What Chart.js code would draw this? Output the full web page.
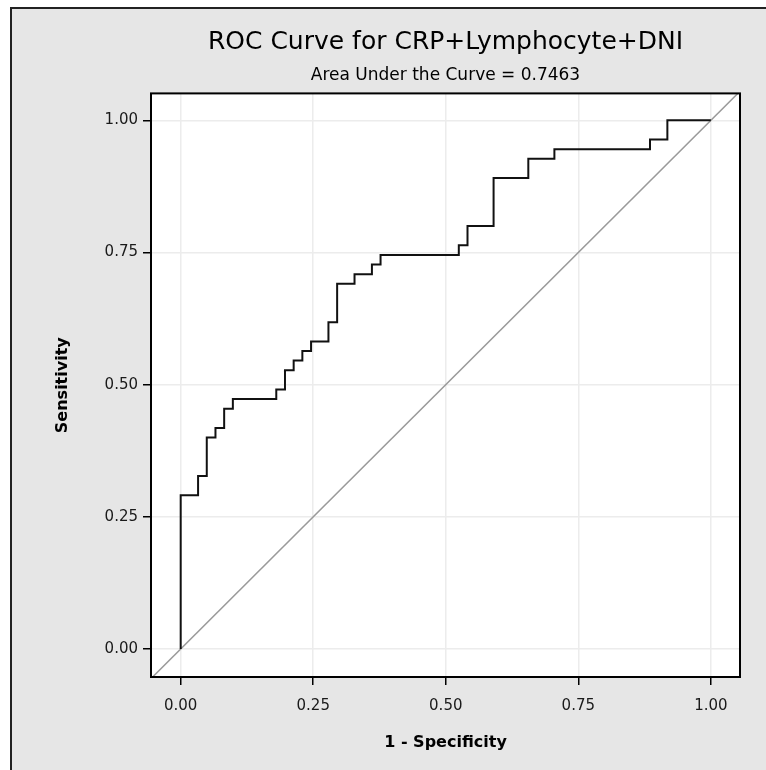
<!DOCTYPE html>
<html>
<head>
<meta charset="utf-8">
<script src="https://cdn.jsdelivr.net/npm/chart.js@4.4.0/dist/chart.umd.min.js"></script>
<style>
  html, body { margin: 0; padding: 0; background: #fff; }
</style>
</head>
<body>
<canvas id="rocChart" width="766" height="770"></canvas>
<script>
// step corners of the ROC curve (1 - specificity, sensitivity)
const rocFpr = [0, 0, 0.0328, 0.0328, 0.0492, 0.0492, 0.0656, 0.0656, 0.0820, 0.0820,
  0.0984, 0.0984, 0.1803, 0.1803, 0.1967, 0.1967, 0.2131, 0.2131, 0.2295, 0.2295,
  0.2459, 0.2459, 0.2787, 0.2787, 0.2951, 0.2951, 0.3279, 0.3279, 0.3607, 0.3607,
  0.3770, 0.3770, 0.5246, 0.5246, 0.5410, 0.5410, 0.5902, 0.5902, 0.6557, 0.6557,
  0.7049, 0.7049, 0.8852, 0.8852, 0.9180, 0.9180, 1];
const rocTpr = [0, 0.2909, 0.2909, 0.3273, 0.3273, 0.4, 0.4, 0.4182, 0.4182, 0.4545,
  0.4545, 0.4727, 0.4727, 0.4909, 0.4909, 0.5273, 0.5273, 0.5455, 0.5455, 0.5636,
  0.5636, 0.5818, 0.5818, 0.6182, 0.6182, 0.6909, 0.6909, 0.7091, 0.7091, 0.7273,
  0.7273, 0.7455, 0.7455, 0.7636, 0.7636, 0.8, 0.8, 0.8909, 0.8909, 0.9273,
  0.9273, 0.9455, 0.9455, 0.9636, 0.9636, 1, 1];
// chance line, corner to corner
const diagX = [-0.06, 1.06];
const diagY = [-0.06, 1.06];
const tickValues = [0, 0.25, 0.5, 0.75, 1];

const titleText = 'ROC Curve for CRP+Lymphocyte+DNI';
const subtitleText = 'Area Under the Curve = 0.7463';
const family = '"DejaVu Sans", sans-serif';

const frame = {
  id: 'frame',
  beforeDraw(chart) {
    const { ctx, chartArea: a } = chart;
    ctx.save();
    ctx.fillStyle = '#fff';
    ctx.fillRect(0, 0, chart.width, chart.height);
    ctx.fillStyle = '#e6e6e6';
    ctx.fillRect(10, 7, chart.width - 10, chart.height - 7);
    ctx.strokeStyle = '#222';
    ctx.lineWidth = 2;
    ctx.beginPath();
    ctx.moveTo(11, chart.height);
    ctx.lineTo(11, 8);
    ctx.lineTo(chart.width, 8);
    ctx.stroke();
    ctx.fillStyle = '#fff';
    ctx.fillRect(a.left, a.top, a.right - a.left, a.bottom - a.top);
    ctx.restore();
  },
  afterDatasetsDraw(chart) {
    const { ctx, chartArea: a } = chart;
    ctx.save();
    ctx.strokeStyle = '#000';
    ctx.lineWidth = 2;
    ctx.strokeRect(a.left, a.top, a.right - a.left, a.bottom - a.top);
    ctx.restore();
  }
};

const axis = (min, max) => ({
  type: 'linear',
  min: min,
  max: max,
  afterBuildTicks: s => { s.ticks = tickValues.map(v => ({ value: v })); },
  grid: { color: '#ececec', lineWidth: 1.5, tickColor: '#000', tickLength: 8, tickWidth: 1.5 },
  border: { display: false },
  ticks: {
    callback: v => Number(v).toFixed(2),
    font: { family: family, size: 15 },
    color: '#1a1a1a',
    maxRotation: 0
  }
});

const xAxis = axis(-0.056, 1.055);
xAxis.afterFit = s => { s.height = 83; };
xAxis.ticks.padding = 12;
xAxis.title = { display: true, text: '1 - Specificity', color: '#000',
  font: { family: family, size: 16, weight: 'bold' }, padding: { top: 0, bottom: 8 } };

const yAxis = axis(-0.053, 1.051);
yAxis.afterFit = s => { s.width = 141; };
yAxis.ticks.padding = 5;
yAxis.title = { display: true, text: 'Sensitivity', color: '#000',
  font: { family: family, size: 16, weight: 'bold' }, padding: { top: 43, bottom: 0 } };

new Chart(document.getElementById('rocChart').getContext('2d'), {
  type: 'scatter',
  data: {
    datasets: [
      {
        label: 'ROC',
        data: rocFpr.map((x, i) => ({ x: x, y: rocTpr[i] })),
        showLine: true,
        borderColor: '#111',
        borderWidth: 2,
        pointRadius: 0,
        tension: 0
      },
      {
        label: 'Chance',
        data: diagX.map((x, i) => ({ x: x, y: diagY[i] })),
        showLine: true,
        clip: 0,
        borderColor: '#9a9a9a',
        borderWidth: 1.5,
        pointRadius: 0
      }
    ]
  },
  options: {
    responsive: false,
    animation: false,
    layout: { padding: { left: 10, right: 26, top: 2, bottom: 10 } },
    scales: { x: xAxis, y: yAxis },
    plugins: {
      legend: { display: false },
      tooltip: { enabled: false },
      title: {
        display: true, text: titleText, fullSize: false, color: '#000',
        font: { family: family, size: 25, weight: 'normal', lineHeight: 1.2 },
        padding: { top: 25, bottom: 5 }
      },
      subtitle: {
        display: true, text: subtitleText, fullSize: false, color: '#000',
        font: { family: family, size: 17, weight: 'normal', lineHeight: 1.2 },
        padding: { top: 3, bottom: 8 }
      }
    }
  },
  plugins: [frame]
});
</script>
</body>
</html>
